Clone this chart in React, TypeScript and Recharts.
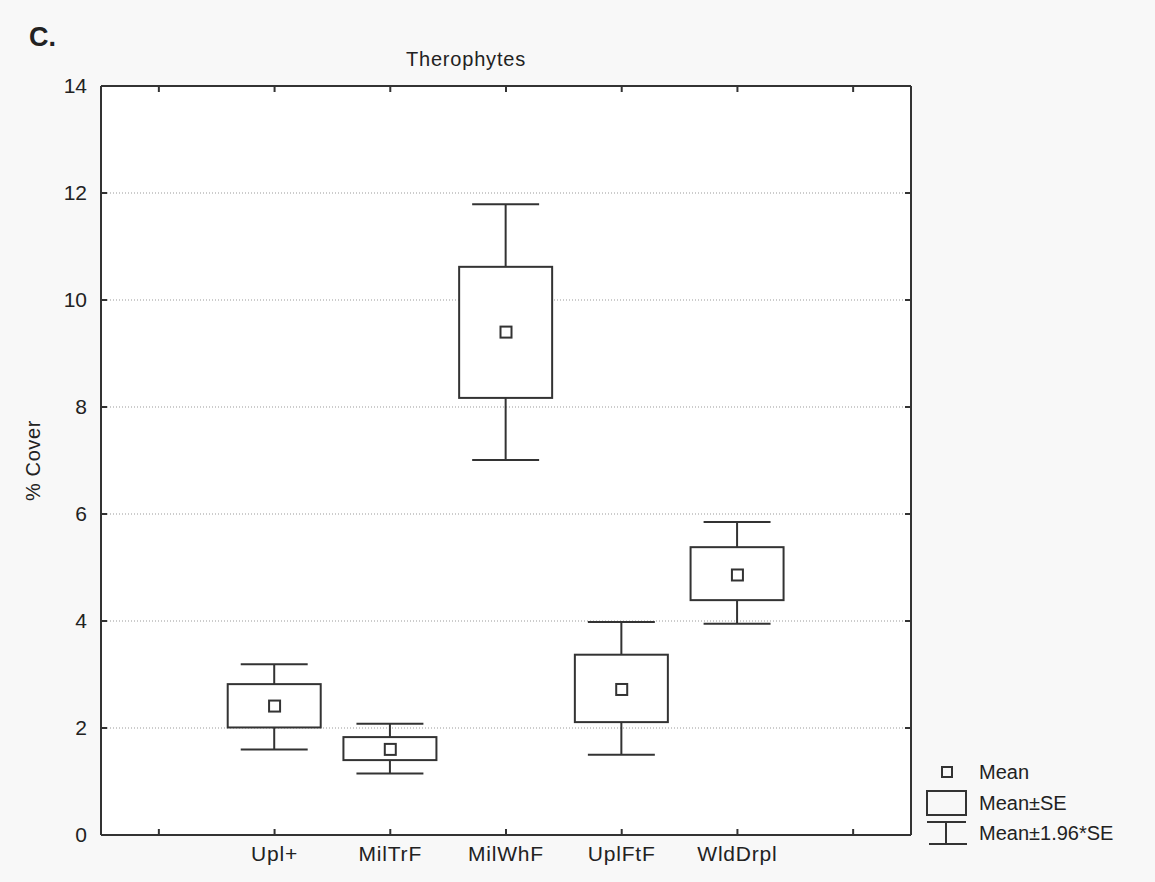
import React from 'react';
import {
  ComposedChart,
  Bar,
  Scatter,
  XAxis,
  YAxis,
  CartesianGrid,
} from 'recharts';

// categories (first and last slots are empty padding on the axis)
const categories = ['_a', 'Upl+', 'MilTrF', 'MilWhF', 'UplFtF', 'WldDrpl', '_b'];
const means = [null, 2.41, 1.6, 9.4, 2.72, 4.86, null];
const seLow = [null, 2.01, 1.4, 8.17, 2.11, 4.39, null];
const seHigh = [null, 2.82, 1.83, 10.62, 3.37, 5.38, null];
const ciLow = [null, 1.6, 1.15, 7.01, 1.5, 3.95, null];
const ciHigh = [null, 3.19, 2.08, 11.79, 3.98, 5.85, null];
const yTicks = [0, 2, 4, 6, 8, 10, 12, 14];

const data = categories.map((name, i) => ({
  name,
  mean: means[i],
  box: means[i] == null ? null : [seLow[i], seHigh[i]],
  ciLow: ciLow[i],
  ciHigh: ciHigh[i],
}));

const INK = '#333';
const FONT = '"Liberation Sans", Arial, sans-serif';

const fmtCat = (v: string) => (v.startsWith('_') ? '' : v);

// box = mean±SE, whiskers = mean±1.96*SE, pixel positions taken from the bar's own scaling
const BoxShape = (props: any) => {
  const { x, y, width, height, payload } = props;
  if (!payload || !payload.box) return null;
  const [lo, hi] = payload.box;
  const top = Math.min(y, y + height);
  const h = Math.abs(height);
  const k = h / (hi - lo);
  const toY = (v: number) => top + (hi - v) * k;
  const cx = x + width / 2;
  const cap = width * 0.36;
  const yHi = toY(payload.ciHigh);
  const yLo = toY(payload.ciLow);
  return (
    <g stroke={INK} strokeWidth={2} fill="none">
      <line x1={cx} x2={cx} y1={yHi} y2={top} />
      <line x1={cx - cap} x2={cx + cap} y1={yHi} y2={yHi} />
      <line x1={cx} x2={cx} y1={top + h} y2={yLo} />
      <line x1={cx - cap} x2={cx + cap} y1={yLo} y2={yLo} />
      <rect x={x} y={top} width={width} height={h} fill="#fff" />
    </g>
  );
};

const MeanShape = (props: any) => {
  const { cx, cy } = props;
  if (cx == null || cy == null) return null;
  return <rect x={cx - 5.5} y={cy - 5.5} width={11} height={11} fill="#fff" stroke={INK} strokeWidth={2} />;
};

const tickStyle = { fontSize: 21, fill: '#222', fontFamily: FONT };
const xTickStyle = { fontSize: 21, fill: '#222', fontFamily: FONT, letterSpacing: 0.8 };
const axisLine = { stroke: INK, strokeWidth: 2 };

export default function App() {
  return (
    <div
      style={{
        position: 'absolute',
        left: 0,
        top: 0,
        width: 1155,
        height: 882,
        background: '#f8f8f8',
        fontFamily: FONT,
        color: '#222',
      }}
    >
      <div style={{ position: 'absolute', left: 29, top: 22, fontSize: 27, fontWeight: 'bold' }}>C.</div>
      <div
        style={{
          position: 'absolute',
          left: 366,
          width: 200,
          top: 48,
          textAlign: 'center',
          fontSize: 20,
          letterSpacing: 0.8,
        }}
      >
        Therophytes
      </div>

      <ComposedChart
        width={1155}
        height={882}
        data={data}
        margin={{ top: 85, right: 243, bottom: 0, left: 41 }}
        style={{ position: 'absolute', left: 0, top: 0 }}
      >
        <CartesianGrid vertical={false} stroke="#999" strokeDasharray="1 2" fill="#fff" fillOpacity={1} />
        <XAxis
          dataKey="name"
          height={47}
          tickFormatter={fmtCat}
          tick={xTickStyle}
          tickSize={-6}
          tickMargin={17}
          axisLine={axisLine}
          tickLine={axisLine}
          interval={0}
        />
        <XAxis
          xAxisId="top"
          dataKey="name"
          orientation="top"
          height={1}
          tickFormatter={() => ''}
          tickSize={-6}
          axisLine={axisLine}
          tickLine={axisLine}
          interval={0}
        />
        <YAxis
          width={60}
          domain={[0, 14]}
          ticks={yTicks}
          tick={tickStyle}
          tickSize={-6}
          tickMargin={20}
          axisLine={axisLine}
          tickLine={axisLine}
          label={{
            value: '% Cover',
            angle: -90,
            position: 'insideLeft',
            offset: -8,
            style: { fontSize: 20, fill: '#222', fontFamily: FONT, textAnchor: 'middle', letterSpacing: 0.6 },
          }}
        />
        <YAxis
          yAxisId="right"
          orientation="right"
          width={1}
          domain={[0, 14]}
          ticks={yTicks}
          tickFormatter={() => ''}
          tickSize={-6}
          axisLine={axisLine}
          tickLine={axisLine}
        />
        <Bar dataKey="box" barSize={93} shape={<BoxShape />} isAnimationActive={false} />
        <Scatter
          dataKey="mean"
          xAxisId="top"
          yAxisId="right"
          shape={<MeanShape />}
          isAnimationActive={false}
        />
      </ComposedChart>

      <div style={{ position: 'absolute', left: 925, top: 757, fontSize: 20, width: 230 }}>
        <div style={{ position: 'absolute', top: 0, left: 0, height: 30, display: 'flex', alignItems: 'center' }}>
          <svg width={44} height={30}>
            <rect x={17} y={10} width={10} height={10} fill="none" stroke={INK} strokeWidth={2} />
          </svg>
          <span style={{ marginLeft: 10 }}>Mean</span>
        </div>
        <div style={{ position: 'absolute', top: 31, left: 0, height: 30, display: 'flex', alignItems: 'center' }}>
          <svg width={44} height={30}>
            <rect x={2} y={3} width={39} height={24} fill="none" stroke={INK} strokeWidth={2} />
          </svg>
          <span style={{ marginLeft: 10 }}>Mean±SE</span>
        </div>
        <div style={{ position: 'absolute', top: 61, left: 0, height: 30, display: 'flex', alignItems: 'center' }}>
          <svg width={44} height={30}>
            <g stroke={INK} strokeWidth={2}>
              <line x1={2} x2={41} y1={4} y2={4} />
              <line x1={21} x2={21} y1={4} y2={26} />
              <line x1={4} x2={42} y1={26} y2={26} />
            </g>
          </svg>
          <span style={{ marginLeft: 10 }}>Mean±1.96*SE</span>
        </div>
      </div>
    </div>
  );
}
